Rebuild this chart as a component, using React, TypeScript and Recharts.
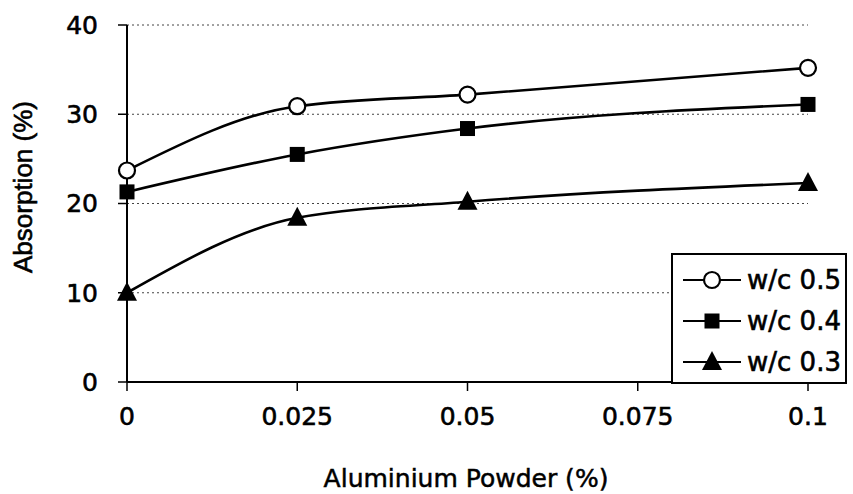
import React from 'react'
import { LineChart, Line, XAxis, YAxis, CartesianGrid } from 'recharts'

// Aluminium powder dosage (%)
const powder = [0, 0.025, 0.05, 0.1]
// Absorption (%) per water/cement ratio
const wc05 = [23.7, 30.9, 32.2, 35.2]
const wc04 = [21.3, 25.5, 28.4, 31.1]
const wc03 = [10.0, 18.4, 20.2, 22.3]

const xTicks = [0, 0.025, 0.05, 0.075, 0.1]
const yTicks = [0, 10, 20, 30, 40]

const SERIES = [
  { key: 'wc05', name: 'w/c 0.5', marker: 'circle' },
  { key: 'wc04', name: 'w/c 0.4', marker: 'square' },
  { key: 'wc03', name: 'w/c 0.3', marker: 'triangle' },
]

const data = powder.map((p, i) => ({
  powder: p,
  wc05: wc05[i],
  wc04: wc04[i],
  wc03: wc03[i],
}))

const FONT = 'DejaVu Sans, Liberation Sans, Arial, sans-serif'
// scanned print looks heavy, so text gets a thin outline
const TEXT_STYLE = { fill: '#000', stroke: '#000', strokeWidth: 0.6, fontSize: 25, fontFamily: FONT }

function Marker({ type, cx, cy }: { type: string; cx: number; cy: number }) {
  if (type === 'circle') {
    return <circle cx={cx} cy={cy} r={8} fill="#fff" stroke="#000" strokeWidth={2.2} />
  }
  if (type === 'square') {
    return <rect x={cx - 7.5} y={cy - 7.5} width={15} height={15} fill="#000" />
  }
  return (
    <polygon
      points={`${cx},${cy - 11} ${cx - 10},${cy + 8} ${cx + 10},${cy + 8}`}
      fill="#000"
    />
  )
}

const makeDot = (type: string) => (props: any) => {
  const { cx, cy, index } = props
  if (cx == null || cy == null) return <g key={`d-${type}-${index}`} />
  return (
    <g key={`d-${type}-${index}`}>
      <Marker type={type} cx={cx} cy={cy} />
    </g>
  )
}

// legend box sits over the lower right of the plot, like the original
function LegendBox() {
  return (
    <div
      style={{
        position: 'absolute',
        left: 671,
        top: 253,
        width: 176,
        height: 131,
        border: '2px solid #000',
        background: '#fff',
        boxSizing: 'border-box',
        paddingTop: 4,
      }}
    >
      {SERIES.map((s) => (
        <div key={s.key} style={{ display: 'flex', alignItems: 'center', height: 41 }}>
          <svg width={74} height={30} style={{ flex: 'none' }}>
            <line x1={10} y1={15} x2={68} y2={15} stroke="#000" strokeWidth={2.2} />
            <Marker type={s.marker} cx={39} cy={15} />
          </svg>
          <span
            style={{
              fontFamily: FONT,
              fontSize: 26,
              color: '#000',
              lineHeight: '30px',
              WebkitTextStroke: '0.6px #000',
            }}
          >
            {s.name}
          </span>
        </div>
      ))}
    </div>
  )
}

const renderYLabel = () => (
  <text
    x={23}
    y={187}
    transform="rotate(-90 23 187)"
    textAnchor="middle"
    dominantBaseline="central"
    fontFamily="Liberation Sans, Arial, sans-serif"
    fontSize={26}
    fill="#000"
    stroke="#000"
    strokeWidth={0.6}
  >
    Absorption (%)
  </text>
)

const renderXLabel = () => (
  <text
    x={466}
    y={487}
    textAnchor="middle"
    fontFamily={FONT}
    fontSize={25}
    fill="#000"
    stroke="#000"
    strokeWidth={0.5}
  >
    Aluminium Powder (%)
  </text>
)

export default function App() {
  return (
    <div style={{ position: 'absolute', left: 0, top: 0, width: 853, height: 494, background: '#fff' }}>
      <LineChart
        width={853}
        height={494}
        data={data}
        margin={{ top: 25, right: 45, bottom: 32, left: 37 }}
      >
        <CartesianGrid vertical={false} stroke="#444" strokeDasharray="2 3" strokeWidth={1} />
        <XAxis
          dataKey="powder"
          type="number"
          domain={[0, 0.1]}
          ticks={xTicks}
          height={80}
          axisLine={{ stroke: '#000', strokeWidth: 2 }}
          tickLine={{ stroke: '#000', strokeWidth: 1.5 }}
          tickSize={9}
          tickMargin={16}
          tick={TEXT_STYLE}
          label={{ content: renderXLabel }}
        />
        <YAxis
          type="number"
          domain={[0, 40]}
          ticks={yTicks}
          width={90}
          axisLine={{ stroke: '#000', strokeWidth: 2 }}
          tickLine={{ stroke: '#000', strokeWidth: 1.5 }}
          tickSize={9}
          tickMargin={20}
          tick={TEXT_STYLE}
          label={{ content: renderYLabel }}
        />
        {SERIES.map((s) => (
          <Line
            key={s.key}
            type="monotone"
            dataKey={s.key}
            name={s.name}
            stroke="#000"
            strokeWidth={2.6}
            dot={makeDot(s.marker)}
            activeDot={false}
            isAnimationActive={false}
          />
        ))}
      </LineChart>
      <LegendBox />
    </div>
  )
}
